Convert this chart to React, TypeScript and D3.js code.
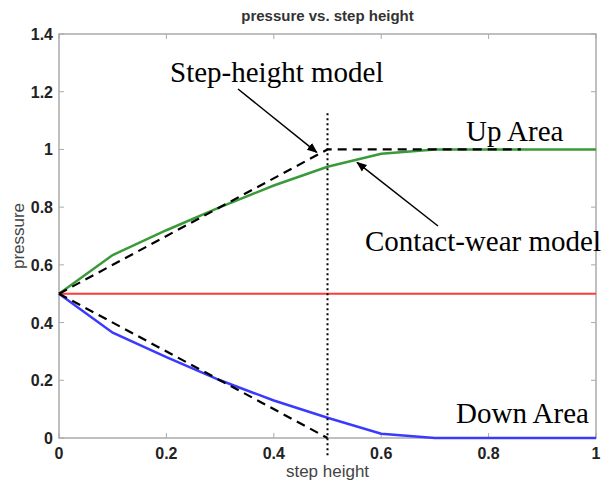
import React from 'react';
import * as d3 from 'd3';

// step height positions of the computed curves
const steps = [0, 0.1, 0.2, 0.3, 0.4, 0.5, 0.6, 0.7, 0.8, 0.9, 1.0];
const upArea = [0.5, 0.634, 0.72, 0.80, 0.875, 0.94, 0.985, 1.0, 1.0, 1.0, 1.0];
const downArea = [0.5, 0.365, 0.28, 0.2, 0.13, 0.07, 0.015, 0, 0, 0, 0];
const nominal = [0.5, 0.5, 0.5, 0.5, 0.5, 0.5, 0.5, 0.5, 0.5, 0.5, 0.5];

// step-height model (dashed)
const modelUpX = [0, 0.5, 0.86];
const modelUpY = [0.5, 1.0, 1.0];
const modelDownX = [0, 0.5];
const modelDownY = [0.5, 0];

const xTicks = [0, 0.2, 0.4, 0.6, 0.8, 1];
const yTicks = [0, 0.2, 0.4, 0.6, 0.8, 1, 1.2, 1.4];

const W = 605;
const H = 482;
const margin = { left: 59, right: 9, top: 34, bottom: 44 };

export default function App() {
  const x = d3.scaleLinear().domain([0, 1]).range([margin.left, W - margin.right]);
  const y = d3.scaleLinear().domain([0, 1.4]).range([H - margin.bottom, margin.top]);
  const line = d3.line<[number, number]>().x(d => x(d[0])).y(d => y(d[1]));

  const zip = (xs: number[], ys: number[]) => xs.map((v, i) => [v, ys[i]] as [number, number]);

  const serif = '"Liberation Serif", "Times New Roman", serif';
  const sans = '"Liberation Sans", Arial, Helvetica, sans-serif';
  const tick = 5;

  return (
    <svg width={W} height={H} style={{ position: 'absolute', left: 0, top: 0, background: '#fff' }}>
      <defs>
        <marker id="arr" viewBox="0 0 10 10" refX="9" refY="5" markerWidth="7" markerHeight="7" orient="auto">
          <path d="M0,1 L10,5 L0,9 z" fill="#000" />
        </marker>
      </defs>
      <text x={(x(0) + x(1)) / 2} y={21} textAnchor="middle" fontFamily={sans} fontSize={15} fontWeight="bold" fill="#333">
        pressure vs. step height
      </text>

      {/* axes box */}
      <rect x={x(0)} y={y(1.4)} width={x(1) - x(0)} height={y(0) - y(1.4)} fill="none" stroke="#aaa" strokeWidth={1.5} />
      {xTicks.map(t => (
        <g key={'xt' + t}>
          <line x1={x(t)} x2={x(t)} y1={y(0)} y2={y(0) - tick} stroke="#aaa" />
          <line x1={x(t)} x2={x(t)} y1={y(1.4)} y2={y(1.4) + tick} stroke="#aaa" />
          <text x={x(t)} y={y(0) + 21} textAnchor="middle" fontFamily={sans} fontSize={16} fontWeight="bold" fill="#222">
            {t}
          </text>
        </g>
      ))}
      {yTicks.map(t => (
        <g key={'yt' + t}>
          <line x1={x(0)} x2={x(0) + tick} y1={y(t)} y2={y(t)} stroke="#aaa" />
          <line x1={x(1)} x2={x(1) - tick} y1={y(t)} y2={y(t)} stroke="#aaa" />
          <text x={x(0) - 6} y={y(t) + 6} textAnchor="end" fontFamily={sans} fontSize={16} fontWeight="bold" fill="#222">
            {t}
          </text>
        </g>
      ))}
      <text x={(x(0) + x(1)) / 2} y={H - 5} textAnchor="middle" fontFamily={sans} fontSize={17} fill="#444">step height</text>
      <text transform={`translate(24,${(y(0) + y(1.4)) / 2}) rotate(-90)`} textAnchor="middle" fontFamily={sans} fontSize={17} fill="#444">
        pressure
      </text>

      {/* curves */}
      <path d={line(zip(steps, nominal)) || ''} fill="none" stroke="#ff3a3a" strokeWidth={2} />
      <path d={line(zip(steps, downArea)) || ''} fill="none" stroke="#3a3aff" strokeWidth={2.5} />
      <path d={line(zip(steps, upArea)) || ''} fill="none" stroke="#3a9a3a" strokeWidth={2.5} />
      <path d={line(zip(modelUpX, modelUpY)) || ''} fill="none" stroke="#000" strokeWidth={2.2} strokeDasharray="9,6" />
      <path d={line(zip(modelDownX, modelDownY)) || ''} fill="none" stroke="#000" strokeWidth={2.2} strokeDasharray="9,6" />
      <line x1={x(0.5)} x2={x(0.5)} y1={y(1.125)} y2={y(-0.06)} stroke="#000" strokeWidth={2} strokeDasharray="2,3" />

      {/* annotations */}
      <text x={170} y={82} fontFamily={serif} fontSize={29} fill="#000">Step-height model</text>
      <line x1={238} y1={89} x2={x(0.48)} y2={y(0.99)} stroke="#000" strokeWidth={1.5} markerEnd="url(#arr)" />
      <text x={466} y={141} fontFamily={serif} fontSize={29} fill="#000">Up Area</text>
      <text x={365} y={251} fontFamily={serif} fontSize={29} fill="#000">Contact-wear model</text>
      <line x1={438} y1={226} x2={x(0.555)} y2={y(0.955)} stroke="#000" strokeWidth={1.5} markerEnd="url(#arr)" />
      <text x={456} y={423} fontFamily={serif} fontSize={29} fill="#000">Down Area</text>
    </svg>
  );
}
